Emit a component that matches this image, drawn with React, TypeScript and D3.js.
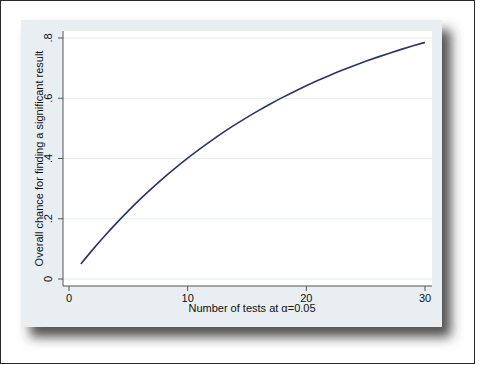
import { useEffect, useRef } from "react";
import * as d3 from "d3";

// number of tests and the chance of at least one significant result
const tests = [1, 2, 3, 4, 5, 6, 7, 8, 9, 10, 11, 12, 13, 14, 15, 16, 17, 18, 19, 20, 21, 22, 23, 24, 25, 26, 27, 28, 29, 30];
const chance = [
  0.05, 0.0975, 0.1426, 0.1855, 0.2262, 0.2649, 0.3017, 0.3366, 0.3698, 0.4013,
  0.4312, 0.4596, 0.4867, 0.5123, 0.5367, 0.5599, 0.5819, 0.6028, 0.6226, 0.6415,
  0.6594, 0.6765, 0.6926, 0.708, 0.7226, 0.7365, 0.7497, 0.7622, 0.7741, 0.7854,
];
const xTicks = [0, 10, 20, 30];
const yTicks = [0, 0.2, 0.4, 0.6, 0.8];
const yTickLabels = ["0", ".2", ".4", ".6", ".8"];

export default function App() {
  const ref = useRef(null);

  useEffect(() => {
    const svg = d3.select(ref.current);
    svg.selectAll("*").remove();

    const font = "'Liberation Sans', Arial, sans-serif";
    const plot = { left: 63, right: 432, top: 31, bottom: 286 };

    const x = d3.scaleLinear().domain([0, 30]).range([69, 425]);
    const y = d3.scaleLinear().domain([0, 0.8]).range([279, 38]);

    // outer frame
    svg.append("rect")
      .attr("x", 0.5).attr("y", 0.5)
      .attr("width", 474).attr("height", 363)
      .attr("fill", "#fff")
      .attr("stroke", "#2a2a2a");

    // drop shadow for the graph panel
    const defs = svg.append("defs");
    const f = defs.append("filter").attr("id", "shadow")
      .attr("x", "-10%").attr("y", "-10%").attr("width", "130%").attr("height", "130%");
    f.append("feDropShadow")
      .attr("dx", 9).attr("dy", 10)
      .attr("stdDeviation", 6)
      .attr("flood-color", "#333")
      .attr("flood-opacity", 0.85);

    svg.append("rect")
      .attr("x", 21).attr("y", 20)
      .attr("width", 421).attr("height", 307)
      .attr("fill", "#e8eef1")
      .attr("filter", "url(#shadow)");

    // plot region
    svg.append("rect")
      .attr("x", plot.left).attr("y", plot.top)
      .attr("width", plot.right - plot.left).attr("height", plot.bottom - plot.top)
      .attr("fill", "#fff");

    // grid lines
    svg.append("g")
      .selectAll("line")
      .data(yTicks)
      .join("line")
      .attr("x1", plot.left).attr("x2", plot.right)
      .attr("y1", (d) => y(d)).attr("y2", (d) => y(d))
      .attr("stroke", "#e6eef0")
      .attr("stroke-width", 1.2);

    // axes
    const axisColor = "#555";
    svg.append("line")
      .attr("x1", plot.left).attr("x2", plot.left)
      .attr("y1", plot.top).attr("y2", plot.bottom)
      .attr("stroke", axisColor);
    svg.append("line")
      .attr("x1", plot.left).attr("x2", plot.right)
      .attr("y1", plot.bottom).attr("y2", plot.bottom)
      .attr("stroke", axisColor);

    // y ticks + rotated labels
    const yt = svg.append("g").selectAll("g").data(yTicks).join("g");
    yt.append("line")
      .attr("x1", plot.left - 5).attr("x2", plot.left)
      .attr("y1", (d) => y(d)).attr("y2", (d) => y(d))
      .attr("stroke", axisColor);
    yt.append("text")
      .attr("transform", (d) => `translate(52,${y(d)}) rotate(-90)`)
      .attr("text-anchor", "middle")
      .attr("font-family", font)
      .attr("font-size", 11)
      .attr("fill", "#111")
      .text((d, i) => yTickLabels[i]);

    // x ticks + labels
    const xt = svg.append("g").selectAll("g").data(xTicks).join("g");
    xt.append("line")
      .attr("x1", (d) => x(d)).attr("x2", (d) => x(d))
      .attr("y1", plot.bottom).attr("y2", plot.bottom + 5)
      .attr("stroke", axisColor);
    xt.append("text")
      .attr("x", (d) => x(d))
      .attr("y", 302)
      .attr("text-anchor", "middle")
      .attr("font-family", font)
      .attr("font-size", 11)
      .attr("fill", "#111")
      .text((d) => d);

    // axis titles
    svg.append("text")
      .attr("x", 252).attr("y", 312)
      .attr("text-anchor", "middle")
      .attr("font-family", font)
      .attr("font-size", 11)
      .attr("fill", "#111")
      .text("Number of tests at α=0.05");

    svg.append("text")
      .attr("transform", `translate(43,${(plot.top + plot.bottom) / 2}) rotate(-90)`)
      .attr("text-anchor", "middle")
      .attr("font-family", font)
      .attr("font-size", 11)
      .attr("fill", "#111")
      .text("Overall chance for finding a significant result");

    // the curve
    const line = d3.line()
      .x((d, i) => x(tests[i]))
      .y((d) => y(d))
      .curve(d3.curveMonotoneX);

    svg.append("path")
      .datum(chance)
      .attr("d", line)
      .attr("fill", "none")
      .attr("stroke", "#2b3466")
      .attr("stroke-width", 1.6);
  }, []);

  return (
    <svg
      ref={ref}
      width={480}
      height={365}
      style={{ position: "absolute", left: 0, top: 0, background: "#fff" }}
    />
  );
}
